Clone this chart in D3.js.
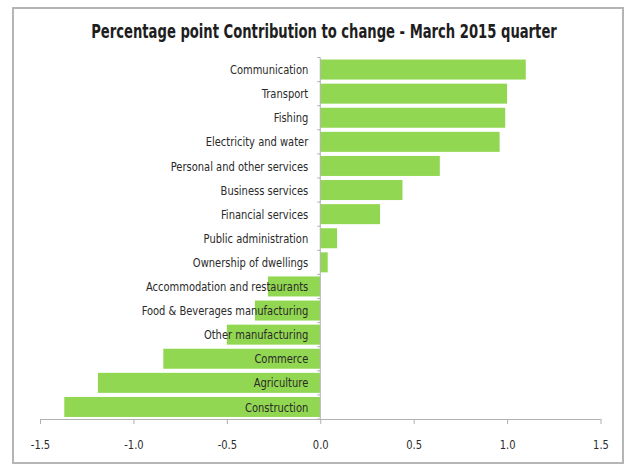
<!DOCTYPE html>
<html>
<head>
<meta charset="utf-8">
<script src="https://cdn.jsdelivr.net/npm/d3@7"></script>
<style>
  html, body { margin: 0; padding: 0; background: #fff; }
  svg { display: block; }
  text { font-family: "DejaVu Sans Condensed", "Open Sans", sans-serif; }
</style>
</head>
<body>
<svg id="chart" width="629" height="466"></svg>
<script>
// Sector contributions (percentage points), top to bottom
const sectors = [
  "Communication", "Transport", "Fishing", "Electricity and water",
  "Personal and other services", "Business services", "Financial services",
  "Public administration", "Ownership of dwellings",
  "Accommodation and restaurants", "Food & Beverages manufacturing",
  "Other manufacturing", "Commerce", "Agriculture", "Construction"
];
const contributions = [
  1.10, 1.00, 0.99, 0.96, 0.64, 0.44, 0.32, 0.09, 0.04,
  -0.28, -0.35, -0.50, -0.84, -1.19, -1.37
];
const xTicks = [-1.5, -1.0, -0.5, 0.0, 0.5, 1.0, 1.5];
const chartTitle = "Percentage point Contribution to change - March 2015 quarter";

const data = sectors.map((s, i) => ({ sector: s, value: contributions[i] }));

const svg = d3.select("#chart");
const narrow = 0.85; // horizontal squeeze for a narrower face

// outer frame
svg.append("rect")
  .attr("x", 13).attr("y", 8)
  .attr("width", 610).attr("height", 455)
  .attr("fill", "#fff")
  .attr("stroke", "#b5b5b5").attr("stroke-width", 2);

svg.append("text")
  .attr("transform", "translate(324,38) scale(0.77,1)")
  .attr("text-anchor", "middle")
  .attr("font-size", 19).attr("font-weight", "bold")
  .attr("fill", "#1e1e1e")
  .text(chartTitle);

const x = d3.scaleLinear().domain([-1.5, 1.5]).range([40, 600.5]);
const y = d3.scaleBand().domain(sectors).range([57.5, 419]).paddingInner(0.17).paddingOuter(0.085);

// bars
svg.append("g").selectAll("rect")
  .data(data)
  .join("rect")
  .attr("x", d => x(Math.min(0, d.value)))
  .attr("y", d => y(d.sector))
  .attr("width", d => Math.abs(x(d.value) - x(0)))
  .attr("height", y.bandwidth())
  .attr("fill", "#92d751");

// category axis at zero with ticks between bands
const yAxisG = svg.append("g");
yAxisG.append("line")
  .attr("x1", x(0)).attr("x2", x(0))
  .attr("y1", 57.5).attr("y2", 419)
  .attr("stroke", "#b0b0b0").attr("stroke-width", 1);
const step = y.step();
yAxisG.selectAll("line.tk")
  .data(d3.range(sectors.length + 1))
  .join("line")
  .attr("class", "tk")
  .attr("x1", x(0) - 3).attr("x2", x(0))
  .attr("y1", i => 57.5 + i * step).attr("y2", i => 57.5 + i * step)
  .attr("stroke", "#b0b0b0");

// category labels, right-aligned left of the zero line
svg.append("g").selectAll("text")
  .data(data)
  .join("text")
  .attr("transform", d => `translate(${x(0) - 12},${y(d.sector) + y.bandwidth() / 2}) scale(${narrow},1)`)
  .attr("dy", "0.35em")
  .attr("text-anchor", "end")
  .attr("font-size", 13)
  .attr("fill", "#2a2a2a")
  .text(d => d.sector);

// value axis
const xAxis = d3.axisBottom(x)
  .tickValues(xTicks)
  .tickFormat(d => d3.format(".1f")(d).replace("\u2212", "-"))
  .tickSize(5)
  .tickSizeOuter(0)
  .tickPadding(0);
const gx = svg.append("g")
  .attr("transform", "translate(0,419)")
  .call(xAxis);
gx.select(".domain").attr("stroke", "#b0b0b0");
gx.selectAll(".tick line").attr("stroke", "#b0b0b0");
gx.selectAll(".tick text")
  .attr("y", null).attr("dy", null)
  .attr("transform", `translate(0,30) scale(${narrow},1)`)
  .attr("font-size", 13)
  .attr("fill", "#2a2a2a");
</script>
</body>
</html>
